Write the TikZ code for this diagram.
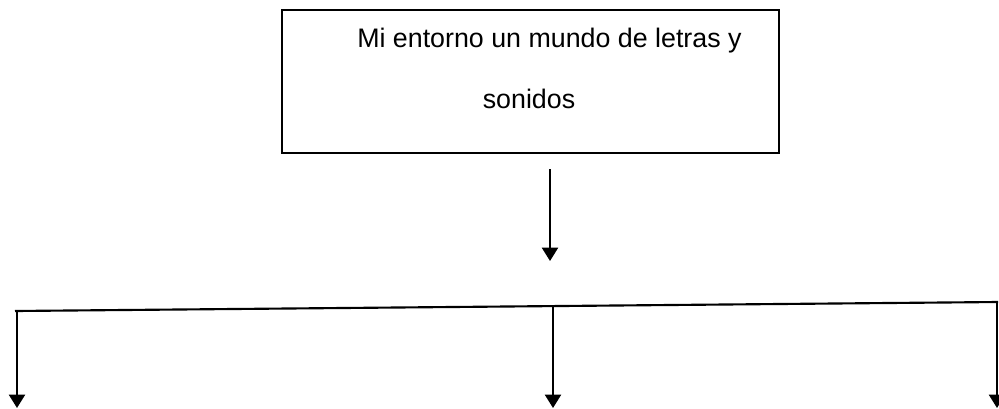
\documentclass[tikz,border=0pt]{standalone}
\usepackage{fontspec}
\setmainfont{Liberation Sans}
\usetikzlibrary{arrows.meta}
\begin{document}
\begin{tikzpicture}[x=0.75pt,y=-0.75pt,
  line/.style={line width=1.6pt, black},
  arr/.style={line, -{Triangle[width=12pt,length=10pt]}},
  boxstyle/.style={draw, line width=1.5pt, minimum width=497*0.75pt, minimum height=143*0.75pt, inner sep=0pt},
  txt/.style={font=\fontsize{20.1pt}{24pt}\selectfont, inner sep=0pt}]
\useasboundingbox (0,0) rectangle (999,408);
\node[boxstyle] (title) at (530.5,81.5) {};
\node[txt, anchor=base west] (l1) at (357,47) {Mi entorno un mundo de letras y};
\node[txt, anchor=base] (l2) at (529,108) {sonidos};
\coordinate (a1) at (550,169);
\coordinate (a2) at (550,261);
\coordinate (hl) at (15,311);
\coordinate (hr) at (998,302);
\coordinate (lt) at (17,311);
\coordinate (lb) at (17,408);
\coordinate (mt) at (553,306);
\coordinate (mb) at (553,408);
\coordinate (rt) at (997,302);
\coordinate (rb) at (997,408);
\draw[arr] (a1) -- (a2);
\draw[line] (hl) -- (hr);
\draw[arr] (lt) -- (lb);
\draw[arr] (mt) -- (mb);
\draw[arr] (rt) -- (rb);
\end{tikzpicture}
\end{document}
